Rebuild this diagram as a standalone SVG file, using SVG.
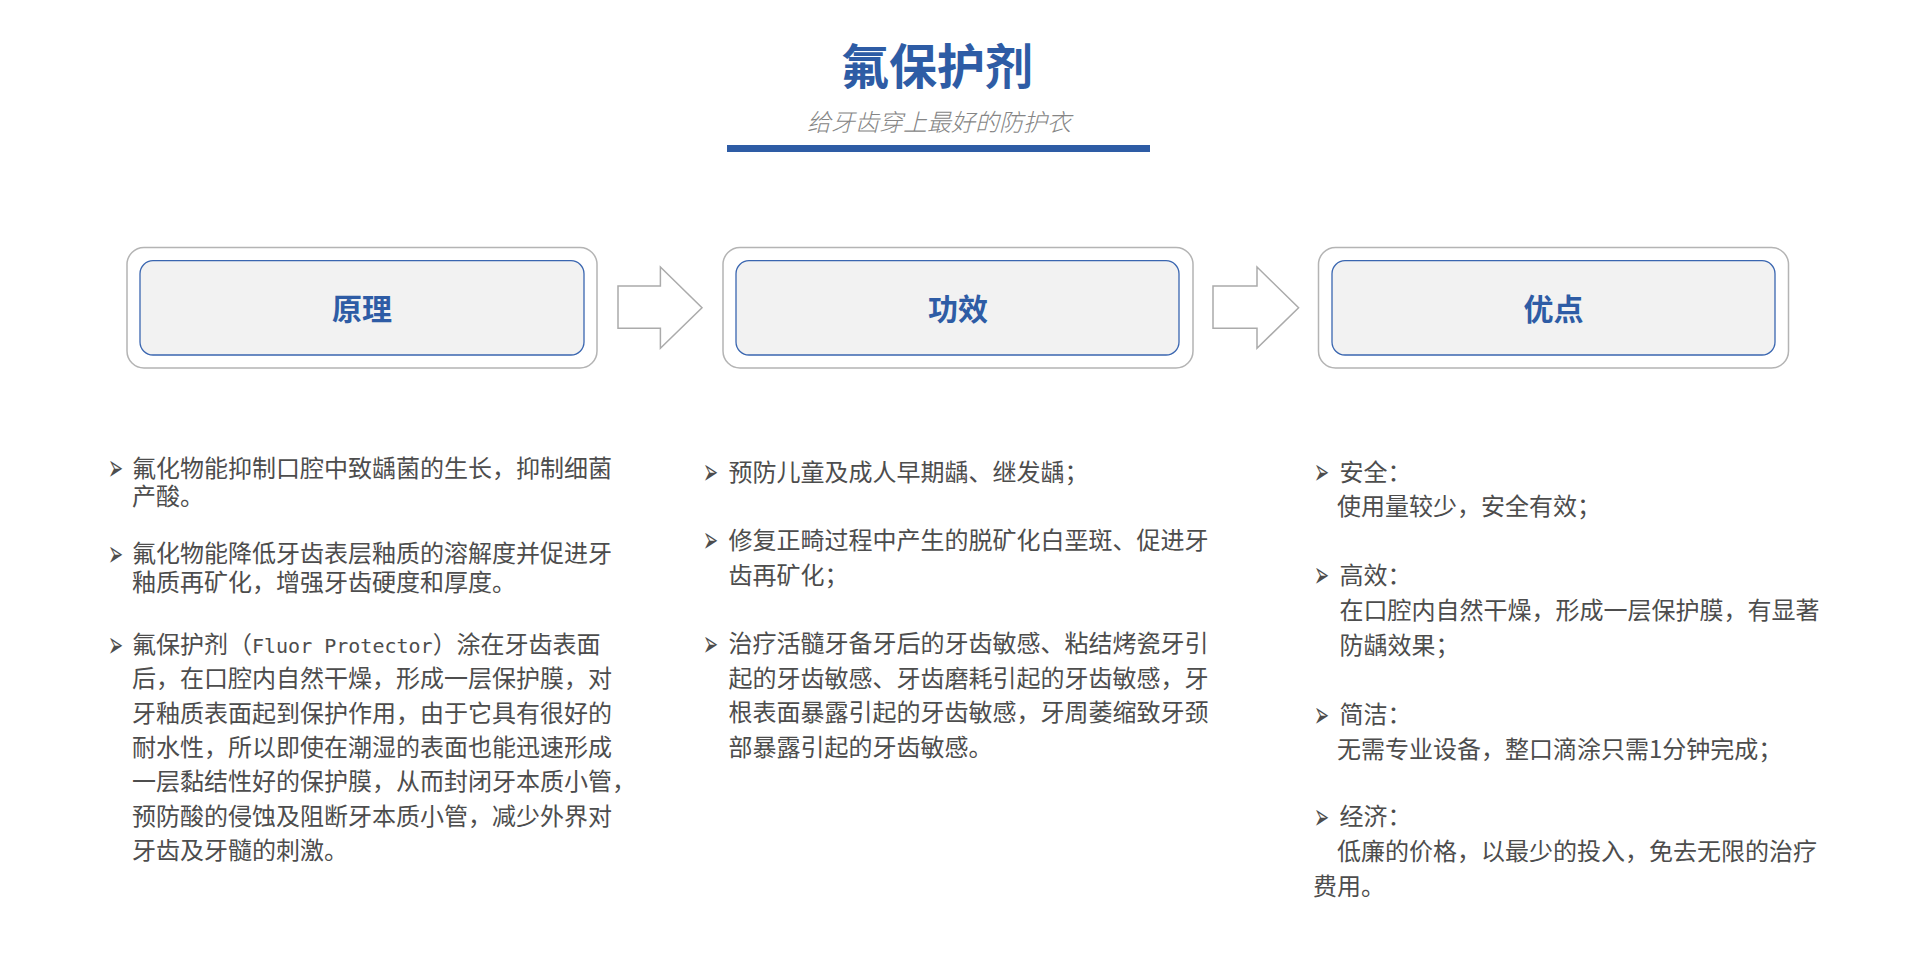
<svg xmlns="http://www.w3.org/2000/svg" width="1920" height="957" viewBox="0 0 1920 957">
<style>
.title{font-family:"Noto Sans CJK SC","Noto Sans",sans-serif;font-weight:700;font-size:48px;fill:#2E5CA5;text-anchor:middle}
.sub{font-family:"Noto Sans CJK SC","Noto Sans",sans-serif;font-style:italic;font-weight:300;font-size:24px;fill:#858585;text-anchor:middle}
.outer{fill:#ffffff;stroke:#b4b4b4;stroke-width:1.5}
.inner{fill:#f2f2f2;stroke:#3A66B0;stroke-width:1.3}
.head{font-family:"Noto Sans CJK SC","Noto Sans",sans-serif;font-weight:700;font-size:30px;fill:#2E5CA5;text-anchor:middle}
.arrow{fill:#ffffff;stroke:#ababab;stroke-width:1.5;stroke-linejoin:miter}
.body{font-family:"Noto Sans CJK SC","Noto Sans",sans-serif;font-size:24px;fill:#4d4d4d}
.bul{font-family:"DejaVu Sans",sans-serif;font-size:40px;fill:#4d4d4d}
.mono{font-family:"DejaVu Sans Mono","Liberation Mono",monospace;font-size:20px}
</style>

<g id="header">
<text class="title" x="937" y="84">氟保护剂</text>
<text class="sub" x="939" y="131">给牙齿穿上最好的防护衣</text>
<rect x="727" y="145" width="423" height="7" fill="#2E5CA5"/>
</g>

<g id="node-yuanli">
<rect class="outer" x="127" y="247.5" width="470" height="120.5" rx="17"/>
<rect class="inner" x="140" y="260.7" width="444" height="94.3" rx="13"/>
<text class="head" x="362" y="320">原理</text>
</g>

<g id="node-gongxiao">
<rect class="outer" x="723" y="247.5" width="470" height="120.5" rx="17"/>
<rect class="inner" x="736" y="260.7" width="443" height="94.3" rx="13"/>
<text class="head" x="958" y="320">功效</text>
</g>

<g id="node-youdian">
<rect class="outer" x="1318.5" y="247.5" width="470" height="120.5" rx="17"/>
<rect class="inner" x="1332" y="260.7" width="443" height="94.3" rx="13"/>
<text class="head" x="1553.5" y="320">优点</text>
</g>

<g id="connectors">
<path class="arrow" d="M618,286 H660.4 V267 L702,307.7 L660.4,348.3 V328.3 H618 Z"/>
<path class="arrow" d="M1213,286 H1257 V267 L1298.6,307.7 L1257,348.3 V328.3 H1213 Z"/>
</g>

<g id="text-yuanli">
<text class="bul" transform="translate(108,480) scale(0.45,0.9)">➢</text>
<text class="body"><tspan x="132" y="476.5">氟化物能抑制口腔中致龋菌的生长，抑制细菌</tspan><tspan x="132" y="505">产酸。</tspan></text>
<text class="bul" transform="translate(108,565.5) scale(0.45,0.9)">➢</text>
<text class="body"><tspan x="132" y="562">氟化物能降低牙齿表层釉质的溶解度并促进牙</tspan><tspan x="132" y="591">釉质再矿化，增强牙齿硬度和厚度。</tspan></text>
<text class="bul" transform="translate(108,656.5) scale(0.45,0.9)">➢</text>
<text class="body"><tspan x="132" y="653">氟保护剂（<tspan class="mono">Fluor Protector</tspan>）涂在牙齿表面</tspan><tspan x="132" y="687.3">后，在口腔内自然干燥，形成一层保护膜，对</tspan><tspan x="132" y="721.6">牙釉质表面起到保护作用，由于它具有很好的</tspan><tspan x="132" y="755.9">耐水性，所以即使在潮湿的表面也能迅速形成</tspan><tspan x="132" y="790.2">一层黏结性好的保护膜，从而封闭牙本质小管，</tspan><tspan x="132" y="824.5">预防酸的侵蚀及阻断牙本质小管，减少外界对</tspan><tspan x="132" y="858.8">牙齿及牙髓的刺激。</tspan></text>
</g>

<g id="text-gongxiao">
<text class="bul" transform="translate(703,484) scale(0.45,0.9)">➢</text>
<text class="body" x="728.6" y="480.5">预防儿童及成人早期龋、继发龋；</text>
<text class="bul" transform="translate(703,552) scale(0.45,0.9)">➢</text>
<text class="body"><tspan x="728.6" y="548.5">修复正畸过程中产生的脱矿化白垩斑、促进牙</tspan><tspan x="728.6" y="584">齿再矿化；</tspan></text>
<text class="bul" transform="translate(703,655.5) scale(0.45,0.9)">➢</text>
<text class="body"><tspan x="728.6" y="652">治疗活髓牙备牙后的牙齿敏感、粘结烤瓷牙引</tspan><tspan x="728.6" y="686.5">起的牙齿敏感、牙齿磨耗引起的牙齿敏感，牙</tspan><tspan x="728.6" y="721">根表面暴露引起的牙齿敏感，牙周萎缩致牙颈</tspan><tspan x="728.6" y="755.5">部暴露引起的牙齿敏感。</tspan></text>
</g>

<g id="text-youdian">
<text class="bul" transform="translate(1314,484) scale(0.45,0.9)">➢</text>
<text class="body"><tspan x="1339.6" y="480.5">安全：</tspan><tspan x="1337" y="515">使用量较少，安全有效；</tspan></text>
<text class="bul" transform="translate(1314,587) scale(0.45,0.9)">➢</text>
<text class="body"><tspan x="1339.6" y="583.5">高效：</tspan><tspan x="1339.6" y="619">在口腔内自然干燥，形成一层保护膜，有显著</tspan><tspan x="1339.6" y="654">防龋效果；</tspan></text>
<text class="bul" transform="translate(1314,726.5) scale(0.45,0.9)">➢</text>
<text class="body"><tspan x="1339.6" y="723">简洁：</tspan><tspan x="1337" y="757.5">无需专业设备，整口滴涂只需1分钟完成；</tspan></text>
<text class="bul" transform="translate(1314,828.5) scale(0.45,0.9)">➢</text>
<text class="body"><tspan x="1339.6" y="825">经济：</tspan><tspan x="1337" y="860">低廉的价格，以最少的投入，免去无限的治疗</tspan><tspan x="1313" y="895">费用。</tspan></text>
</g>
</svg>
